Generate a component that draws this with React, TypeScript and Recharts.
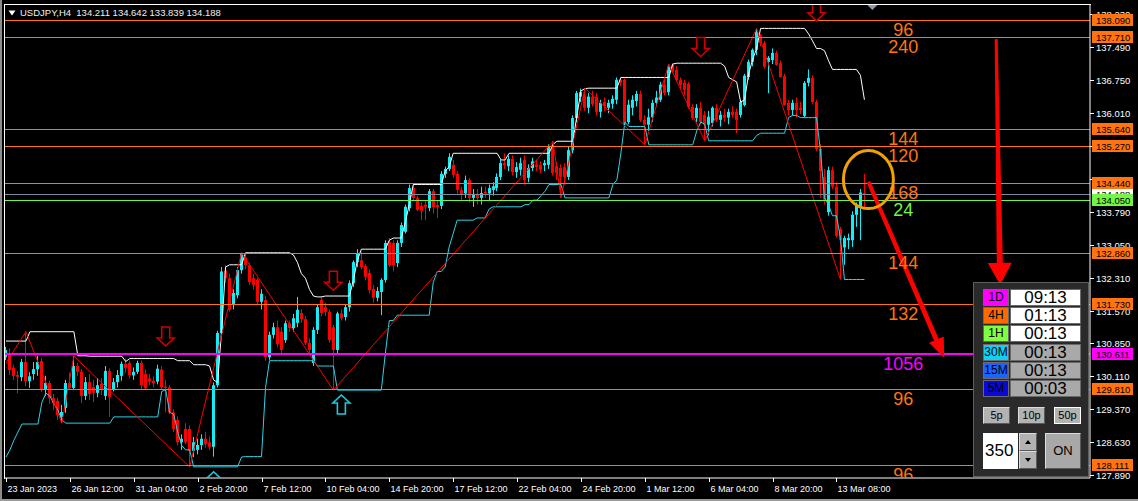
import React from 'react';
import { ComposedChart, Bar, Line, XAxis, YAxis, ReferenceLine, ReferenceDot } from 'recharts';

const FONT = '"Liberation Sans", Arial, sans-serif';
const symbol = 'USDJPY,H4';

// H4 candles [open, high, low, close]
const ohlc: number[][] = [
  [130.53,130.76,130.46,130.69],[130.60,130.73,130.13,130.24],[130.29,130.36,130.02,130.11],[130.13,130.22,129.72,130.09],
  [130.08,130.49,129.99,130.42],[130.42,131.10,129.88,129.99],[129.99,130.19,129.84,130.10],[130.15,130.42,130.02,130.26],
  [130.26,130.56,130.11,130.42],[130.44,130.51,129.75,129.81],[129.81,130.11,129.66,129.95],[129.95,130.00,129.48,129.61],
  [129.61,129.70,129.34,129.50],[129.55,129.62,129.12,129.23],[129.19,129.46,129.05,129.30],[129.39,130.02,129.28,129.95],
  [129.95,130.18,129.79,129.84],[129.84,130.55,129.79,130.33],[130.33,130.40,130.10,130.20],[130.20,130.26,129.50,129.66],
  [129.66,130.08,129.57,129.97],[129.97,130.15,129.57,129.70],[129.86,130.02,129.52,129.73],[129.73,130.06,129.63,129.90],
  [129.93,130.06,129.68,129.79],[129.66,130.33,129.57,130.22],[130.22,130.28,129.19,129.64],[129.80,130.06,129.76,129.97],
  [129.97,130.24,129.85,130.13],[130.11,130.43,130.00,130.38],[130.38,130.50,130.18,130.28],[130.40,130.45,130.05,130.12],
  [130.12,130.30,130.02,130.20],[130.20,130.45,130.15,130.40],[130.40,130.45,129.82,129.90],[130.15,130.25,129.80,129.83],
  [130.05,130.15,129.90,129.98],[130.00,130.10,129.85,129.95],[129.98,130.36,129.92,130.27],[130.25,130.33,129.80,129.86],
  [129.87,130.02,129.29,129.84],[129.85,129.90,129.25,129.29],[129.29,129.36,128.85,128.92],[129.12,129.20,128.55,128.62],
  [128.62,128.80,128.45,128.70],[128.92,129.05,128.58,128.62],[128.92,129.00,128.07,128.43],[128.43,128.74,128.29,128.62],
  [128.45,128.70,128.35,128.56],[128.56,128.80,128.45,128.70],[128.70,128.85,128.50,128.58],[128.62,128.75,128.45,128.52],
  [128.52,129.96,128.30,129.90],[129.90,131.12,129.85,131.07],[131.07,132.55,130.98,132.45],[132.47,132.60,132.20,132.30],
  [132.30,132.40,131.55,131.59],[131.70,132.05,131.60,131.97],[131.92,132.55,131.85,132.48],[132.48,132.87,132.40,132.86],
  [132.77,132.82,132.50,132.59],[132.59,132.65,132.15,132.21],[132.30,132.40,132.05,132.15],[132.26,132.30,131.70,131.77],
  [131.77,132.05,131.60,131.95],[131.81,131.90,130.45,130.53],[130.53,131.10,130.47,131.03],[131.03,131.30,130.95,131.20],
  [131.20,131.35,130.75,130.82],[131.10,131.20,130.60,130.69],[130.91,131.35,130.85,131.29],[131.29,131.35,131.10,131.18],
  [131.18,131.50,131.10,131.40],[131.30,131.88,131.20,131.59],[131.52,131.60,131.30,131.38],[131.38,131.45,130.80,130.85],
  [130.85,130.95,130.60,130.69],[130.40,131.20,130.33,131.14],[131.14,131.70,131.05,131.65],[131.81,131.90,131.45,131.52],
  [131.65,131.75,131.45,131.54],[131.54,131.60,130.85,130.91],[131.20,131.25,129.79,130.69],[130.69,131.55,130.60,131.51],
  [131.51,131.60,131.35,131.40],[131.43,131.70,131.35,131.65],[131.65,132.25,131.55,132.19],[132.19,132.70,132.10,132.66],
  [132.66,132.95,132.55,132.86],[132.70,132.90,132.50,132.55],[132.57,132.62,132.25,132.33],[132.42,132.50,131.95,132.03],
  [132.06,132.15,131.75,131.86],[131.86,132.10,131.78,132.01],[131.99,132.30,131.47,132.26],[132.26,133.15,132.20,133.09],
  [133.11,133.20,132.55,132.59],[133.09,133.15,132.45,132.59],[132.64,133.15,132.55,133.09],[133.09,133.55,133.00,133.49],
  [133.34,133.95,133.30,133.90],[133.87,134.40,133.80,134.32],[134.32,134.40,134.05,134.10],[134.10,134.15,133.80,133.83],
  [133.92,134.00,133.60,133.81],[133.95,134.05,133.60,133.90],[133.87,134.30,133.80,134.25],[134.25,134.30,133.75,133.89],
  [133.94,134.05,133.65,133.89],[133.92,134.70,133.85,134.64],[134.64,134.80,134.55,134.75],[134.75,135.10,134.70,135.02],
  [134.84,134.95,134.55,134.62],[134.64,134.70,134.20,134.28],[134.28,134.35,134.05,134.17],[134.20,134.60,134.10,134.50],
  [134.50,134.55,134.00,134.10],[134.10,134.30,133.90,134.19],[134.19,134.30,133.95,134.10],[134.10,134.35,133.95,134.21],
  [134.24,134.35,134.10,134.20],[134.20,134.40,134.05,134.32],[134.28,134.45,134.15,134.36],[134.32,134.65,134.25,134.57],
  [134.57,134.95,134.50,134.88],[134.88,135.10,134.75,134.83],[134.81,135.05,134.70,134.97],[134.97,135.05,134.60,134.68],
  [134.68,134.90,134.55,134.79],[134.73,135.00,134.60,134.88],[134.95,135.05,134.40,134.50],[134.55,134.85,134.45,134.77],
  [134.77,135.00,134.70,134.92],[134.85,134.95,134.70,134.79],[134.84,134.92,134.65,134.73],[134.83,134.95,134.70,134.88],
  [134.84,135.30,134.75,135.24],[135.28,135.37,134.60,134.66],[134.82,134.90,134.50,134.66],[134.77,134.85,134.10,134.57],
  [134.79,134.88,134.40,134.57],[134.57,135.25,134.50,135.17],[135.17,135.95,135.10,135.89],[135.89,136.50,135.80,136.45],
  [136.37,136.55,136.25,136.47],[136.40,136.56,136.05,136.12],[136.12,136.45,136.00,136.37],[136.37,136.50,136.15,136.20],
  [136.37,136.45,135.95,136.03],[136.03,136.30,135.90,136.23],[136.25,136.35,136.05,136.16],[136.12,136.30,136.00,136.23],
  [136.21,136.40,136.10,136.32],[136.30,136.80,136.20,136.75],[136.75,136.80,136.60,136.68],[136.75,136.78,135.70,135.74],
  [135.80,136.30,135.75,136.19],[136.12,136.40,135.95,136.30],[136.27,136.50,136.15,136.43],[136.43,136.50,135.80,135.85],
  [135.85,135.95,135.29,135.74],[135.74,136.10,135.60,135.91],[135.91,136.30,135.80,136.23],[136.23,136.50,136.15,136.35],
  [136.30,136.70,136.25,136.64],[136.64,136.75,136.40,136.45],[136.47,137.10,136.40,137.04],[137.08,137.12,136.90,136.93],
  [136.97,137.05,136.70,136.74],[136.74,136.80,136.55,136.63],[136.68,136.75,136.40,136.52],[136.66,136.70,136.10,136.14],
  [136.14,136.20,135.85,135.89],[135.89,136.20,135.80,136.12],[136.12,136.25,135.75,135.80],[135.96,136.05,135.38,135.74],
  [135.74,136.05,135.50,135.92],[135.78,136.15,135.70,136.12],[136.12,136.20,135.80,135.85],[135.85,136.05,135.70,135.96],
  [135.96,136.10,135.80,135.90],[135.90,136.10,135.75,136.03],[136.03,136.15,135.90,135.96],[136.03,136.10,135.55,135.85],
  [135.96,136.30,135.90,136.25],[136.18,136.88,136.15,136.84],[136.81,137.20,136.75,137.15],[137.15,137.45,137.05,137.42],
  [137.42,137.90,137.30,137.82],[137.75,137.78,137.50,137.57],[137.57,137.62,137.00,137.04],[137.15,137.28,136.45,137.24],
  [137.19,137.45,137.10,137.35],[137.35,137.40,137.06,137.08],[137.12,137.18,136.80,136.81],[136.83,136.88,136.17,136.18],
  [136.23,136.30,135.95,136.07],[136.07,136.30,135.95,136.23],[136.23,136.35,135.90,136.07],[136.12,136.25,135.98,136.07],
  [135.94,136.72,135.90,136.68],[136.68,136.98,136.60,136.79],[136.79,136.85,136.20,136.25],[136.25,136.30,135.15,135.20],
  [135.20,135.30,134.10,134.70],[134.57,134.75,133.95,134.06],[133.78,134.80,133.70,134.72],[134.72,134.80,134.30,134.35],
  [134.35,134.45,133.20,133.25],[133.40,133.45,132.27,133.15],[132.99,133.25,132.60,133.20],[133.15,133.30,132.95,133.20],
  [133.15,133.80,133.00,133.72],[133.72,134.00,133.45,133.92],[133.92,134.30,133.15,134.22],[134.211,134.642,133.839,134.188],
];

// 12 bars before the first visible bar (highs / lows only, for the channel)
const preHighs = [130.20,130.40,130.55,130.60,130.70,130.75,130.80,130.89,130.70,130.50,130.80,130.85];
const preLows = [128.29,128.45,128.67,128.85,129.30,129.45,129.60,129.75,129.03,129.52,129.90,130.10];
const CHANNEL = 12;

// zigzag pivots
const zzIndex = [0, 5, 14, 17, 46, 59, 82, 137, 139, 145, 160, 166, 175, 188, 209];
const zzPrice = [130.40, 131.10, 129.05, 130.55, 128.07, 132.87, 129.79, 135.37, 134.10, 136.56, 135.29, 137.10, 135.38, 137.90, 132.27];

// horizontal levels
const levelPrices = [138.090, 137.710, 135.640, 135.270, 134.440, 134.050, 132.860, 131.730, 130.611, 129.810, 128.111];
const levelTags = ['96', '240', '144', '120', '168', '24', '144', '132', '1056', '96', '96'];
const levelKinds = ['o', 'o', 'o', 'o', 'o', 'g', 'o', 'o', 'm', 'o', 'o'];
const TAG_SLOT = 225;

// axes
const Y_MIN = 127.82;
const Y_MAX = 138.447;
const yTicks = [127.890, 128.630, 129.370, 130.110, 130.850, 131.570, 132.310, 133.050, 133.790, 134.530, 135.270, 136.010, 136.750, 137.490, 138.230];
const xTickIdx = [0, 16, 32, 48, 64, 80, 96, 112, 128, 144, 160, 176, 192, 208];
const xTickText = ['23 Jan 2023', '26 Jan 12:00', '31 Jan 04:00', '2 Feb 20:00', '7 Feb 12:00', '10 Feb 04:00', '14 Feb 20:00', '17 Feb 12:00', '22 Feb 04:00', '24 Feb 20:00', '1 Mar 12:00', '6 Mar 04:00', '8 Mar 20:00', '13 Mar 08:00'];
const SLOTS = 272;

// signal arrows
const downArrowIdx = [40, 82, 174, 203];
const downArrowPrice = [130.78, 132.03, 137.27, 138.07];
const upArrowIdx = [84, 52];
const upArrowPrice = [129.68, 127.96];

// drawn objects
const bigArrowFrom = [[248, 137.66], [216, 134.46]];
const bigArrowTo = [[249, 132.15], [235, 130.51]];
const bigArrowStyle = [[3, 6, 22, 24], [4, 5, 20, 16]];
const circleIdx = 216;
const circlePrice = 134.51;

// timer panel
const tfLabels = ['1D', '4H', '1H', '30M', '15M', '5M'];
const tfColors = ['#ff00ff', '#ff6a00', '#80ff40', '#10d0f8', '#1a64ff', '#0808d8'];
const tfTimes = ['09:13', '01:13', '00:13', '00:13', '00:13', '00:03'];
const tfTimeBg = ['#ffffff', '#ffffff', '#ffffff', '#a9a9a9', '#a9a9a9', '#a9a9a9'];
const stepButtons = ['5p', '10p', '50p'];
const lotValue = '350';
const switchLabel = 'ON';

const ORANGE = '#ff7410';
const GREEN = '#72f545';
const MAGENTA = '#ff00ff';
const BULL = '#12eef8';
const BEAR = '#ff0000';
const BAND_LOW = '#2ed3e6';
const BID = 134.188;

// plot rectangle (matches chart margins / axis sizes below)
const PLOT = { left: 4, top: 4, width: 1086, height: 474 };

const colorOf = (k: string) => (k === 'g' ? GREEN : k === 'm' ? MAGENTA : ORANGE);

const allHighs = [...preHighs, ...ohlc.map((b) => b[1])];
const allLows = [...preLows, ...ohlc.map((b) => b[2])];

const rows = Array.from({ length: SLOTS }, (_, i) => {
  const b = ohlc[i];
  const zi = zzIndex.indexOf(i);
  const zz = zi >= 0 ? zzPrice[zi] : null;
  if (!b) return { i, zz };
  const hs = allHighs.slice(i + preHighs.length - CHANNEL, i + preHighs.length);
  const ls = allLows.slice(i + preLows.length - CHANNEL, i + preLows.length);
  return {
    i, o: b[0], h: b[1], l: b[2], c: b[3], range: [b[2], b[1]],
    upper: Math.max(...hs), lower: Math.min(...ls), zz,
  };
});

const Candle = (props: any) => {
  const { x, width, payload } = props;
  let { y, height } = props;
  if (!payload || payload.h == null) return null;
  if (height < 0) { y += height; height = -height; }
  const { o, h, l, c } = payload;
  const color = c > o ? BULL : BEAR;
  const span = h - l || 1e-6;
  const py = (p: number) => y + ((h - p) / span) * height;
  const cx = Math.floor(x + width / 2) + 0.5;
  const top = Math.min(py(o), py(c));
  const bot = Math.max(py(o), py(c));
  return (
    <g>
      <line x1={cx} x2={cx} y1={y} y2={y + height} stroke={color} strokeWidth={1} />
      <rect x={cx - 1.5} y={top} width={3} height={Math.max(1, bot - top)} fill={color} />
    </g>
  );
};

const XTick = (p: any) => {
  const k = xTickIdx.indexOf(p.payload.value);
  if (k < 0) return null;
  const x = Math.round(p.x) + 0.5;
  return (
    <g>
      <line x1={x} x2={x} y1={p.y} y2={p.y + 4} stroke="#fff" />
      <text x={x + 1} y={p.y + 14} fill="#fff" fontSize={9} fontFamily={FONT}>{xTickText[k]}</text>
    </g>
  );
};

const downArrow = (p: any) => {
  const { cx, cy } = p;
  const pts = [[cx - 4, cy - 19], [cx + 4, cy - 19], [cx + 4, cy - 8], [cx + 8.5, cy - 8], [cx, cy], [cx - 8.5, cy - 8], [cx - 4, cy - 8]];
  return <polygon points={pts.map((q) => q.join(',')).join(' ')} fill="none" stroke="#d00000" strokeWidth={1.6} clipPath="url(#plotClip)" />;
};
const upArrow = (p: any) => {
  const { cx, cy } = p;
  const pts = [[cx, cy], [cx + 8.5, cy + 8], [cx + 4, cy + 8], [cx + 4, cy + 19], [cx - 4, cy + 19], [cx - 4, cy + 8], [cx - 8.5, cy + 8]];
  return <polygon points={pts.map((q) => q.join(',')).join(' ')} fill="none" stroke="#1fc8dc" strokeWidth={1.6} clipPath="url(#plotClip)" />;
};

const bigArrowShape = (st: number[]) => (p: any) => {
  const { x1, y1, x2, y2 } = p;
  if (x1 == null) return null;
  const [w1, w2, hl, hw] = st;
  const dx = x2 - x1, dy = y2 - y1;
  const L = Math.hypot(dx, dy) || 1;
  const ux = dx / L, uy = dy / L;
  const nx = -uy, ny = ux;
  const neckX = x2 - ux * hl, neckY = y2 - uy * hl;
  const P = (bx: number, by: number, s: number) => `${bx + nx * s},${by + ny * s}`;
  const pts = [P(x1, y1, w1 / 2), P(neckX, neckY, w2 / 2), P(neckX, neckY, hw / 2), `${x2},${y2}`, P(neckX, neckY, -hw / 2), P(neckX, neckY, -w2 / 2), P(x1, y1, -w1 / 2)];
  return <polygon points={pts.join(' ')} fill="#ff0000" />;
};

const levelLine = (color: string, w: number) => (p: any) => {
  if (p.y1 == null) return null;
  const y = w === 1 ? Math.round(p.y1) + 0.5 : Math.round(p.y1);
  return <line x1={Math.min(p.x1, p.x2)} x2={Math.max(p.x1, p.x2)} y1={y} y2={y} stroke={color} strokeWidth={w} />;
};

const tagShape = (text: string, color: string) => (p: any) => (
  <g>
    <defs>
      <clipPath id="plotClip">
        <rect x={PLOT.left} y={PLOT.top} width={PLOT.width} height={PLOT.height} />
      </clipPath>
    </defs>
    <text x={p.cx - 1} y={p.cy + 16} textAnchor="middle" fill={color} fontSize={18} fontFamily={FONT} clipPath="url(#plotClip)">{text}</text>
  </g>
);

const yTickShape = (v: number) => (p: any) => {
  if (p.y1 == null) return null;
  const R = Math.max(p.x1, p.x2);
  const y = Math.round(p.y1) + 0.5;
  return (
    <g>
      <line x1={R} x2={R + 4} y1={y} y2={y} stroke="#fff" />
      <text x={R + 6} y={y + 3.5} fill="#fff" fontSize={9.5} fontFamily={FONT}>{v.toFixed(3)}</text>
    </g>
  );
};

const priceBox = (v: number, bg: string) => (p: any) => {
  if (p.y1 == null) return null;
  const R = Math.max(p.x1, p.x2);
  const y = Math.round(p.y1);
  return (
    <g>
      <rect x={R + 2} y={y - 6} width={41} height={12} fill={bg} />
      <text x={R + 6} y={y + 4} fill="#000" fontSize={9.5} fontFamily={FONT}>{v.toFixed(3)}</text>
    </g>
  );
};

const ellipseShape = (p: any) => (
  <ellipse cx={p.cx} cy={p.cy} rx={25} ry={29} fill="none" stroke="#f2a200" strokeWidth={3} />
);
const shiftMarker = (p: any) => (
  <polygon points={`${p.cx - 5},${p.cy + 1} ${p.cx + 5},${p.cy + 1} ${p.cx},${p.cy + 6}`} fill="#8d9aa6" />
);

const bevel = (light: string, dark: string) => ({
  borderTop: `1px solid ${light}`, borderLeft: `1px solid ${light}`,
  borderRight: `1px solid ${dark}`, borderBottom: `1px solid ${dark}`,
});

export default function App() {
  const last = ohlc[ohlc.length - 1];
  const title = `${symbol}  ${last.map((v) => v.toFixed(3)).join(' ')}`;
  const abs = (l: number, t: number, w: number, h: number): React.CSSProperties => ({
    position: 'absolute', left: l, top: t, width: w, height: h, boxSizing: 'border-box',
  });
  return (
    <div style={{ position: 'fixed', left: 0, top: 0, width: 1138, height: 501, background: '#000', overflow: 'hidden' }}>
      <ComposedChart width={1138} height={501} data={rows} margin={{ top: PLOT.top, right: 0, bottom: 0, left: PLOT.left }}>
        <XAxis dataKey="i" type="category" ticks={xTickIdx} interval={0} tickLine={false} tickSize={0} tickMargin={0}
          axisLine={{ stroke: '#fff' }} height={23} tick={XTick} />
        <YAxis orientation="right" type="number" domain={[Y_MIN, Y_MAX]} allowDataOverflow width={48}
          tick={false} tickLine={false} axisLine={{ stroke: '#fff' }} />
        <Bar dataKey="range" shape={Candle} isAnimationActive={false} />
        <Line dataKey="upper" stroke="#ffffff" strokeWidth={1} dot={false} activeDot={false} type="linear" isAnimationActive={false} />
        <Line dataKey="lower" stroke={BAND_LOW} strokeWidth={1} dot={false} activeDot={false} type="linear" isAnimationActive={false} />
        <Line dataKey="zz" stroke="#ff0000" strokeWidth={1} dot={false} activeDot={false} connectNulls type="linear" isAnimationActive={false} />
        <ReferenceLine y={BID} ifOverflow="visible" shape={levelLine('#7d8b99', 1)} />
        {levelPrices.map((v, k) => (
          <ReferenceLine key={`l${k}`} y={v} ifOverflow="visible" shape={levelLine(colorOf(levelKinds[k]), levelKinds[k] === 'm' ? 2 : 1)} />
        ))}
        {levelPrices.map((v, k) => (
          <ReferenceDot key={`t${k}`} x={TAG_SLOT} y={v} ifOverflow="visible" shape={tagShape(levelTags[k], colorOf(levelKinds[k]))} />
        ))}
        {downArrowIdx.map((x, k) => (
          <ReferenceDot key={`d${k}`} x={x} y={downArrowPrice[k]} ifOverflow="visible" shape={downArrow} />
        ))}
        {upArrowIdx.map((x, k) => (
          <ReferenceDot key={`u${k}`} x={x} y={upArrowPrice[k]} ifOverflow="visible" shape={upArrow} />
        ))}
        <ReferenceDot x={circleIdx} y={circlePrice} ifOverflow="visible" shape={ellipseShape} />
        <ReferenceDot x={ohlc.length + 1} y={Y_MAX} ifOverflow="visible" shape={shiftMarker} />
        {bigArrowFrom.map((f, k) => (
          <ReferenceLine key={`a${k}`} ifOverflow="visible"
            segment={[{ x: f[0], y: f[1] }, { x: bigArrowTo[k][0], y: bigArrowTo[k][1] }]}
            shape={bigArrowShape(bigArrowStyle[k])} />
        ))}
        {yTicks.map((v) => (
          <ReferenceLine key={`y${v}`} y={v} ifOverflow="visible" shape={yTickShape(v)} />
        ))}
        <ReferenceLine y={BID} ifOverflow="visible" shape={priceBox(BID, '#ffffff')} />
        {levelPrices.map((v, k) => (
          <ReferenceLine key={`b${k}`} y={v} ifOverflow="visible" shape={priceBox(v, colorOf(levelKinds[k]))} />
        ))}
      </ComposedChart>

      {/* plot frame top/left */}
      <div style={{ ...abs(4, 4, 1087, 475), borderTop: '1px solid #fff', borderLeft: '1px solid #fff', pointerEvents: 'none' }} />
      <div style={{ ...abs(0, 0, 2, 501), background: '#8c8c8c' }} />
      <div style={{ ...abs(0, 499, 1138, 2), background: '#9a9a9a' }} />

      {/* title */}
      <svg style={{ position: 'absolute', left: 8, top: 10 }} width={8} height={6}>
        <polygon points="0.5,0.5 7.5,0.5 4,5.5" fill="#fff" />
      </svg>
      <div style={{ position: 'absolute', left: 20, top: 7, color: '#f0f0f0', fontFamily: FONT, fontSize: 9.5, whiteSpace: 'pre', lineHeight: '12px' }}>
        {title}
      </div>

      {/* timer panel */}
      <div style={{ ...abs(973, 282, 116, 195), background: '#2a2a2a', border: '1px solid #5e5e5e' }}>
        {tfLabels.map((lab, r) => (
          <React.Fragment key={lab}>
            <div style={{ ...abs(9, 6 + r * 18.2, 26, 17), background: tfColors[r], border: '1px solid #6a6a6a',
              fontFamily: FONT, fontSize: 12, color: '#000', textAlign: 'center', lineHeight: '15px' }}>{lab}</div>
            <div style={{ ...abs(36, 6 + r * 18.2, 71, 17), background: tfTimeBg[r], border: '1px solid #6a6a6a',
              fontFamily: FONT, fontSize: 17, color: '#000', textAlign: 'center', lineHeight: '15px' }}>{tfTimes[r]}</div>
          </React.Fragment>
        ))}
        {stepButtons.map((b, k) => (
          <div key={b} style={{ ...abs([9, 44, 80][k], 124, 27, 17), background: '#b2b2b2',
            ...(k === 2 ? bevel('#ffffff', '#ffffff') : bevel('#dcdcdc', '#5a5a5a')),
            fontFamily: FONT, fontSize: 11, color: '#000', textAlign: 'center', lineHeight: '15px' }}>{b}</div>
        ))}
        <div style={{ ...abs(9, 150, 35, 36), background: '#fff', fontFamily: FONT, fontSize: 17, color: '#000',
          paddingLeft: 2, lineHeight: '36px' }}>{lotValue}</div>
        <div style={{ ...abs(45, 150, 18, 18), background: '#b2b2b2', ...bevel('#dcdcdc', '#5a5a5a') }}>
          <svg width={16} height={16} style={{ position: 'absolute', left: 0, top: 0 }}><polygon points="5,10 11,10 8,6" fill="#000" /></svg>
        </div>
        <div style={{ ...abs(45, 168, 18, 18), background: '#b2b2b2', ...bevel('#dcdcdc', '#5a5a5a') }}>
          <svg width={16} height={16} style={{ position: 'absolute', left: 0, top: 0 }}><polygon points="5,6 11,6 8,10" fill="#000" /></svg>
        </div>
        <div style={{ ...abs(71, 150, 36, 36), background: '#a8a8a8', ...bevel('#dcdcdc', '#5a5a5a'),
          fontFamily: FONT, fontSize: 13, color: '#000', textAlign: 'center', lineHeight: '34px' }}>{switchLabel}</div>
      </div>
    </div>
  );
}
